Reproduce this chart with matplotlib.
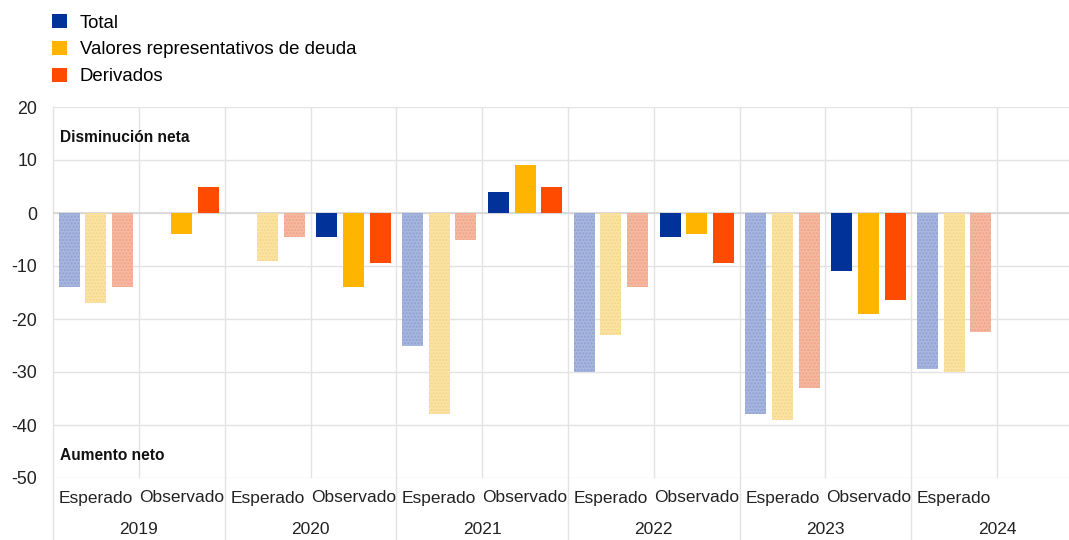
import numpy as np
import matplotlib
matplotlib.use("Agg")
import matplotlib.pyplot as plt
from matplotlib.patches import Patch
import matplotlib.transforms as mtransforms

plt.rcParams['font.family'] = ['Liberation Sans', 'DejaVu Sans']
plt.rcParams['axes.unicode_minus'] = False

years = ["2019", "2020", "2021", "2022", "2023", "2024"]
subgroups = ["Esperado", "Observado"]
series_names = ["Total", "Valores representativos de deuda", "Derivados"]

# order: 2019 Esp, 2019 Obs, 2020 Esp, 2020 Obs, ..., 2024 Esp
total =   [-14.0, np.nan, np.nan, -4.5, -25.0, 4.0, -30.0, -4.5, -38.0, -11.0, -29.5]
valores = [-17.0, -4.0, -9.0, -14.0, -38.0, 9.0, -23.0, -4.0, -39.0, -19.0, -30.0]
derivados = [-14.0, 5.0, -4.5, -9.5, -5.0, 5.0, -14.0, -9.5, -33.0, -16.5, -22.5]

dark = ["#003299", "#FFB400", "#FF4B00"]
light = ["#a7b6de", "#fbe3a4", "#f6b8a0"]
hatchc = ["#8fa1d2", "#f5d58a", "#eea488"]

fig = plt.figure(figsize=(10.69, 5.40), dpi=100)
W, H = 1069, 540
left, right, top, bottom = 53, 1083, 107, 478
ax = fig.add_axes([left / W, 1 - bottom / H, (right - left) / W, (bottom - top) / H])

n = len(total)
x = np.arange(n)
bw = 0.245
off = 0.31
plt.rcParams['hatch.linewidth'] = 1.0
for si, vals in enumerate([total, valores, derivados]):
    for i in range(n):
        v = vals[i]
        if np.isnan(v):
            continue
        xi = x[i] + (si - 1) * off
        if i % 2 == 0:  # Esperado
            ax.bar(xi, v, width=bw, color=light[si], edgecolor=hatchc[si],
                   hatch='.....', linewidth=0, zorder=3)
        else:
            ax.bar(xi, v, width=bw, color=dark[si], linewidth=0, zorder=3)

ax.set_xlim(-0.5, 11.5)
ax.set_ylim(-50, 20)
ax.set_yticks(np.arange(-50, 21, 10))
ax.set_xticks([])
for s in ax.spines.values():
    s.set_visible(False)
ax.tick_params(axis='y', length=0, pad=11.5, labelsize=12.8, labelcolor="#222222")

gc = "#e3e3e3"
for yv in np.arange(-50, 21, 10):
    ax.axhline(yv, color=gc, lw=1, zorder=1)
ax.axhline(0, color="#d6d6d6", lw=1.2, zorder=2)

# inner lines (between Esperado and Observado)
for g in range(6):
    ax.axvline(2 * g + 0.5, color=gc, lw=1, zorder=1)
# group separators extending into label area
blend = mtransforms.blended_transform_factory(ax.transData, ax.transAxes)
ext = -(540 - bottom) / (bottom - top)
for g in range(7):
    ax.plot([2 * g - 0.5, 2 * g - 0.5], [ext, 1], color=gc, lw=1,
            transform=blend, clip_on=False, zorder=1)

# category labels
for i in range(n):
    ax.text(x[i], -(498 - bottom) / (bottom - top), subgroups[i % 2], transform=blend,
            ha='center', va='center', fontsize=12.5, color="#222222")
for g, yr in enumerate(years):
    ax.text(2 * g + 0.5, -(530 - bottom) / (bottom - top), yr, transform=blend,
            ha='center', va='center', fontsize=12.5, color="#222222")

ax.text(60 / W, 1 - 137 / H, "Disminución neta", transform=fig.transFigure,
        fontsize=11.2, fontweight='bold', va='center', ha='left', color="#111111")
ax.text(60 / W, 1 - 455 / H, "Aumento neto", transform=fig.transFigure,
        fontsize=11.2, fontweight='bold', va='center', ha='left', color="#111111")

handles = [Patch(facecolor=c, edgecolor='none') for c in dark]
fig.legend(handles, series_names, loc='upper left', bbox_to_anchor=(52 / W, 1 - 14 / H),
           frameon=False, fontsize=13.4, handlelength=0.8, handleheight=0.8,
           handletextpad=0.7, labelspacing=0.5, borderaxespad=0, borderpad=0)

fig.savefig("out.png", dpi=100)
